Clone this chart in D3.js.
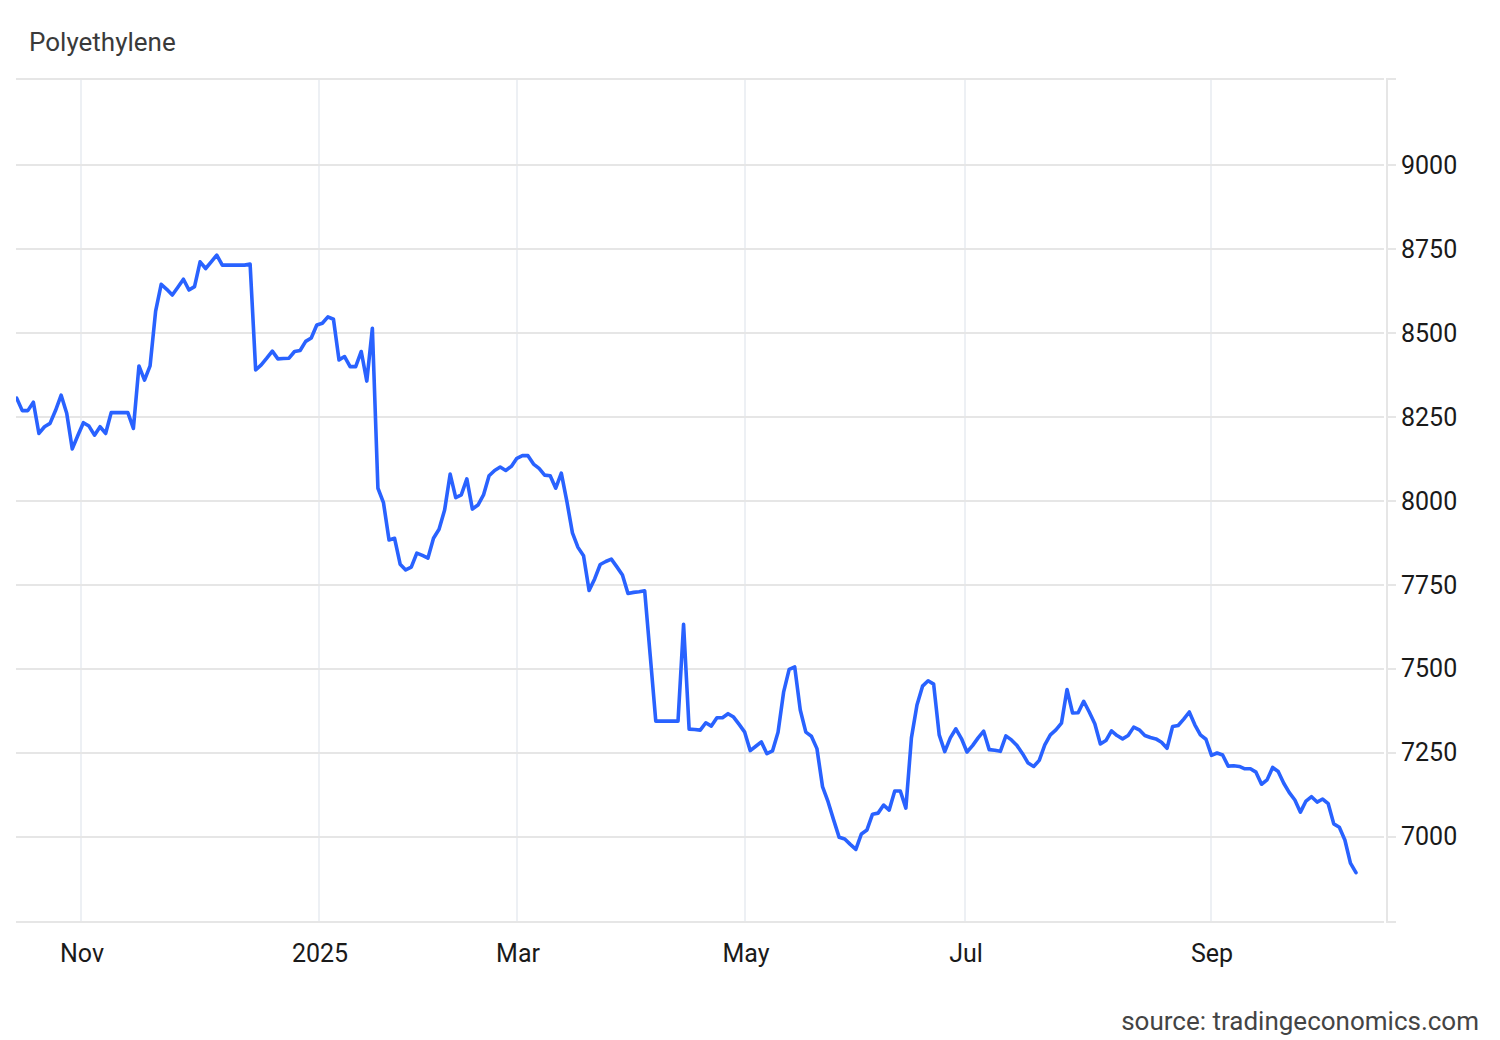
<!DOCTYPE html>
<html>
<head>
<meta charset="utf-8">
<script src="https://cdn.jsdelivr.net/npm/d3@7"></script>
<style>
  html, body { margin: 0; padding: 0; background: #ffffff; }
  svg { display: block; }
  text { font-family: Roboto, "Noto Sans", "DejaVu Sans", sans-serif; }
</style>
</head>
<body>
<div id="chart"></div>
<script>
// ---------- DATA ----------
const chartTitle = "Polyethylene";
const sourceText = "source: tradingeconomics.com";

// daily (trading-day) closing values, oldest first
const values = [
  8306, 8269, 8269, 8294, 8201, 8221, 8231, 8270, 8315, 8261,
  8155, 8195, 8233, 8223, 8196, 8221, 8201, 8263, 8263, 8263,
  8263, 8216, 8402, 8360, 8402, 8565, 8645, 8630, 8613, 8636,
  8660, 8628, 8638, 8712, 8692, 8712, 8732, 8702, 8702, 8702,
  8702, 8702, 8705, 8390, 8405, 8425, 8446, 8423, 8424, 8425,
  8445, 8448, 8475, 8485, 8524, 8529, 8548, 8541, 8420, 8430,
  8400, 8400, 8445, 8357, 8514, 8038, 7995, 7884, 7889, 7812,
  7795, 7803, 7845, 7838, 7830, 7889, 7916, 7973, 8080, 8010,
  8018, 8066, 7976, 7988, 8018, 8075, 8091, 8101, 8091, 8103,
  8127, 8135, 8135, 8110, 8097, 8077, 8075, 8038, 8083, 7999,
  7905, 7862, 7837, 7734, 7768, 7811, 7820, 7827, 7804, 7780,
  7725, 7728, 7730, 7733, 7540, 7345, 7345, 7345, 7345, 7345,
  7633, 7321, 7320, 7318, 7340, 7330, 7355, 7355, 7367, 7357,
  7335, 7312, 7257, 7270, 7283, 7248, 7256, 7312, 7431, 7499,
  7506, 7378, 7312, 7300, 7263, 7150, 7105, 7051, 6999, 6994,
  6978, 6963, 7009, 7021, 7068, 7071, 7095, 7080, 7137, 7137,
  7086, 7295, 7393, 7449, 7465, 7455, 7304, 7254, 7295, 7322,
  7293, 7253, 7272, 7295, 7315, 7260, 7258, 7255, 7301, 7289,
  7272, 7248, 7220, 7210, 7228, 7274, 7304, 7319, 7339, 7439,
  7369, 7370, 7404, 7372, 7337, 7277, 7287, 7316, 7302, 7292,
  7302, 7327, 7319, 7302, 7296, 7292, 7282, 7264, 7329, 7332,
  7351, 7372, 7334, 7304, 7291, 7243, 7250, 7244, 7211, 7212,
  7210, 7203, 7203, 7193, 7157, 7170, 7207, 7195, 7160, 7132,
  7110, 7074, 7107, 7120, 7104, 7113, 7099, 7039, 7029, 6991,
  6922, 6894
];

// x-axis month labels and where they fall on the trading-day index
const xTickLabels = ["Nov", "2025", "Mar", "May", "Jul", "Sep"];
const xTickAt     = [11.57, 54.40, 90.03, 131.05, 170.64, 214.91];

// y-axis ticks
const yTicks = [7000, 7250, 7500, 7750, 8000, 8250, 8500, 8750, 9000];
const yDomain = [6747, 9256];

// ---------- LAYOUT ----------
const W = 1500, H = 1040;
const plot = { left: 16, right: 1384, top: 79, bottom: 922 };
const firstX = 16.7, lastX = 1356;
const axisX = 1387;

const svg = d3.select("#chart").append("svg")
  .attr("width", W).attr("height", H)
  .attr("viewBox", `0 0 ${W} ${H}`);

svg.append("rect").attr("width", W).attr("height", H).attr("fill", "#ffffff");

const x = d3.scaleLinear().domain([0, values.length - 1]).range([firstX, lastX]);
const y = d3.scaleLinear().domain(yDomain).range([plot.bottom, plot.top]);

// vertical grid (month ticks)
svg.append("g").selectAll("line").data(xTickAt).join("line")
  .attr("x1", d => x(d)).attr("x2", d => x(d))
  .attr("y1", plot.top).attr("y2", plot.bottom)
  .attr("stroke", "#edf0f4").attr("stroke-width", 2);

// horizontal grid incl. top and bottom borders
const hLines = [yDomain[0], ...yTicks, yDomain[1]];
svg.append("g").selectAll("line").data(hLines).join("line")
  .attr("x1", plot.left).attr("x2", plot.right)
  .attr("y1", d => y(d)).attr("y2", d => y(d))
  .attr("stroke", "#e6e6e6").attr("stroke-width", 2);

// right axis line + tick marks
svg.append("line")
  .attr("x1", axisX).attr("x2", axisX)
  .attr("y1", plot.top - 1).attr("y2", plot.bottom + 1)
  .attr("stroke", "#e6e6e6").attr("stroke-width", 2);
svg.append("g").selectAll("line").data(hLines).join("line")
  .attr("x1", axisX).attr("x2", axisX + 9)
  .attr("y1", d => y(d)).attr("y2", d => y(d))
  .attr("stroke", "#e6e6e6").attr("stroke-width", 2);

// y labels
svg.append("g").selectAll("text").data(yTicks).join("text")
  .attr("x", 1401).attr("y", d => y(d) + 8.5)
  .attr("font-size", 25).attr("fill", "#1a1a1a")
  .text(d => d);

// x labels
svg.append("g").selectAll("text").data(xTickAt).join("text")
  .attr("x", d => x(d) + 1).attr("y", 962)
  .attr("text-anchor", "middle")
  .attr("font-size", 25).attr("fill", "#1a1a1a")
  .text((d, i) => xTickLabels[i]);

// clip + line
svg.append("clipPath").attr("id", "clip").append("rect")
  .attr("x", plot.left).attr("y", plot.top)
  .attr("width", plot.right - plot.left).attr("height", plot.bottom - plot.top);

const line = d3.line().x((d, i) => x(i)).y(d => y(d));
svg.append("path")
  .datum(values)
  .attr("clip-path", "url(#clip)")
  .attr("d", line)
  .attr("fill", "none")
  .attr("stroke", "#2962ff")
  .attr("stroke-width", 3.6)
  .attr("stroke-linejoin", "round")
  .attr("stroke-linecap", "round");

// title and source
svg.append("text").attr("x", 29).attr("y", 50.5)
  .attr("font-size", 26).attr("fill", "#3a3a3a").text(chartTitle);
svg.append("text").attr("x", 1479).attr("y", 1029.5)
  .attr("text-anchor", "end")
  .attr("font-size", 26).attr("fill", "#444444").text(sourceText);
</script>
</body>
</html>
